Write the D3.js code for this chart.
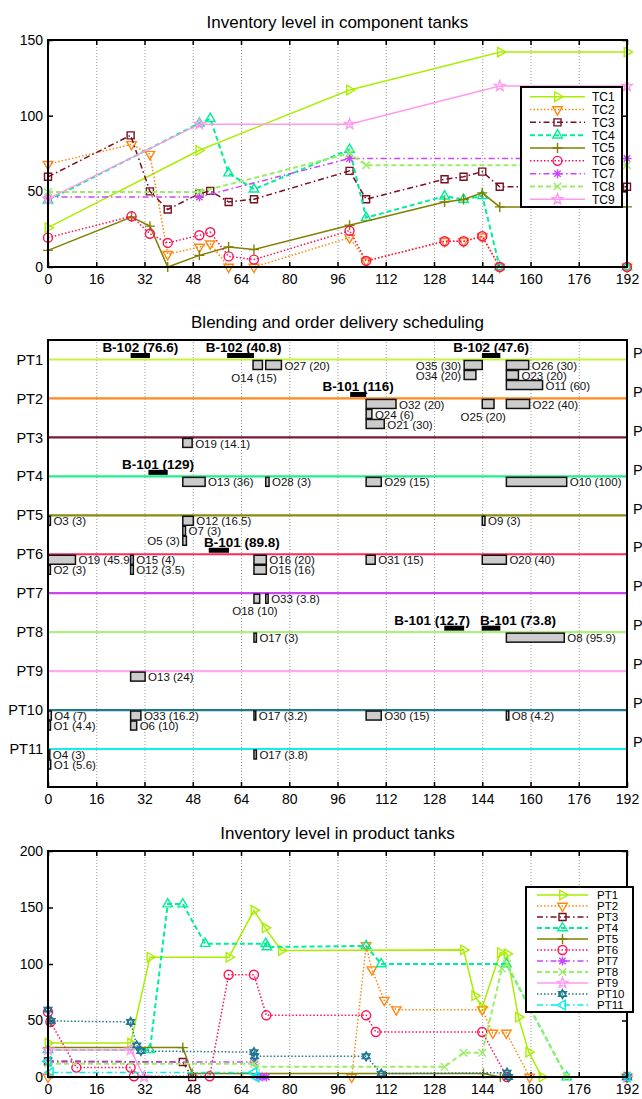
<!DOCTYPE html>
<html>
<head>
<meta charset="utf-8">
<script src="https://cdn.jsdelivr.net/npm/d3@7"></script>
<style>
body { margin: 0; background: #fff; }
svg { display: block; font-family: "Liberation Sans", Arial, sans-serif; }
.grid line { stroke: #999; stroke-dasharray: 1,2; }
.grid path { display: none; }
.axis path { display: none; }
.axis text { font-size: 14px; fill: #000; }
.axis line { stroke: #000; stroke-width: 1.5; }
</style>
</head>
<body>
<div id="chart"></div>
<script>
// ---------- component tanks (time, level) ----------
var tc1 = [[0,26],[50,77],[100,117],[150,142],[192,142]];
var tc2 = [[0,68],[27.7,81],[33.8,74.6],[39.7,8.4],[50.2,13.2],[53.8,15.4],[59.9,0],[68.3,0],[100,19.4],[105.5,4],[131.5,17],[137.8,17],[144,20],[149.8,0],[192,0]];
var tc3 = [[0,59.6],[27.4,87],[33.8,50],[39.7,38],[50.2,48.5],[53.8,50.3],[59.9,43],[68.3,44.8],[100,63.5],[105.5,44.8],[131.5,58],[137.8,59.6],[144,63],[149.8,53],[192,53]];
var tc4 = [[0,44],[50.2,95],[53.8,98],[59.9,62],[68.3,51.4],[100,77.6],[105.5,32.6],[131.5,46.8],[137.8,44.6],[144,47],[149.8,0],[192,0]];
var tc5 = [[0,11],[27.7,33],[33.8,27],[39.7,0],[50.2,7.7],[59.9,13.2],[68.3,11.5],[100,27.6],[131.5,43],[137.8,44.6],[144,49],[149.8,39.7],[192,39.7]];
var tc6 = [[0,19.4],[27.7,33.5],[33.8,22],[39.7,15.9],[50.2,21],[53.8,23],[59.9,7],[68.3,4.9],[100,24],[105.5,4],[131.5,17],[137.8,17],[144,20.3],[149.8,0],[192,0]];
var tc7 = [[0,46.3],[50.2,46.3],[100,71.7],[192,71.7]];
var tc8 = [[0,49.6],[50.2,49.6],[100,75],[105.5,67.3],[192,67.3]];
var tc9 = [[0,45],[50.2,94.4],[100,94.4],[149.8,119.6],[192,119.6]];
var tcNames = ["TC1","TC2","TC3","TC4","TC5","TC6","TC7","TC8","TC9"];

// ---------- product tanks (time, level) ----------
var pt1 = [[0,30],[27.4,30],[33.8,106],[60,106],[68.3,147.5],[72,132],[77.4,112],[137.8,112.5],[141.5,72],[144,62],[150,110],[152.2,109],[156,53],[159.4,22],[163.8,0],[192,0]];
var pt2 = [[0,0],[100.7,0],[105.5,116.5],[107.4,95],[111.5,68],[115.5,59.6],[144,59.6],[147.5,39],[152,39],[159.7,0],[192,0]];
var pt3 = [[0,14],[44.7,13.3],[47.8,0],[192,0]];
var pt4 = [[0,24],[33.8,24],[39.7,153],[44.7,153],[52.1,118],[72.2,118],[72.6,115],[105.5,116],[110.5,100],[152,100],[172,0],[192,0]];
var pt5 = [[0,26],[44.7,26],[47.8,3],[144.4,3],[150,0],[192,0]];
var pt6 = [[0,57.5],[0.8,48.7],[9.4,8.3],[27.4,8.3],[28.5,0.6],[53.6,0.6],[59.9,90.5],[68.3,90.5],[72.4,54.6],[105.5,54.6],[108.7,39.8],[144,39.8],[152.2,0],[192,0]];
var pt7 = [[0,13.3],[68.3,13.3],[69.7,0],[71,0],[72.4,0],[192,0]];
var pt8 = [[0,11.8],[68.3,11.8],[69,9],[131.5,9],[137.8,21.5],[144,21.5],[150.5,96],[152.2,100],[172,0],[192,0]];
var pt9 = [[0,24],[27.4,24],[31.9,0],[192,0]];
var pt10 = [[0,59.6],[1,49.6],[27.4,48.7],[29.4,28],[30.8,23],[68.3,22],[68.5,18.3],[105.5,18.3],[110.5,3],[152.2,3.8],[152.7,0],[192,0]];
var pt11 = [[0,14],[0.8,4],[68.3,4],[69,0],[192,0]];
var ptNames = ["PT1","PT2","PT3","PT4","PT5","PT6","PT7","PT8","PT9","PT10","PT11"];
var rightLabels = ["P2","P5","P2","P4","P2","P2","P1","P1","P4","P1","P1"];

// ---------- blending runs and order deliveries ----------
var blends = [
  {tank:"PT1", unit:"B-102", qty:76.6, start:27.4, end:33.8},
  {tank:"PT1", unit:"B-102", qty:40.8, start:59.4, end:68.3},
  {tank:"PT1", unit:"B-102", qty:47.6, start:143.9, end:150},
  {tank:"PT2", unit:"B-101", qty:116, start:100.2, end:105.5},
  {tank:"PT4", unit:"B-101", qty:129, start:33.3, end:39.7},
  {tank:"PT6", unit:"B-101", qty:89.8, start:53.3, end:60},
  {tank:"PT8", unit:"B-101", qty:12.7, start:131.4, end:138},
  {tank:"PT8", unit:"B-101", qty:73.8, start:143.8, end:150}
];

var orders = [
  {tank:"PT1", id:"O14", qty:15, start:68, end:71.1},
  {tank:"PT1", id:"O27", qty:20, start:72.2, end:77.4},
  {tank:"PT1", id:"O35", qty:30, start:138, end:144},
  {tank:"PT1", id:"O34", qty:20, start:138, end:141.9},
  {tank:"PT1", id:"O26", qty:30, start:152, end:159.4},
  {tank:"PT1", id:"O23", qty:20, start:152, end:156},
  {tank:"PT1", id:"O11", qty:60, start:152, end:164},
  {tank:"PT2", id:"O32", qty:20, start:105.5, end:115.4},
  {tank:"PT2", id:"O24", qty:6, start:105.5, end:107.4},
  {tank:"PT2", id:"O21", qty:30, start:105.5, end:111.5},
  {tank:"PT2", id:"O25", qty:20, start:144, end:147.9},
  {tank:"PT2", id:"O22", qty:40, start:152, end:159.7},
  {tank:"PT3", id:"O19", qty:14.1, start:44.7, end:47.8},
  {tank:"PT4", id:"O13", qty:36, start:44.7, end:52.1},
  {tank:"PT4", id:"O28", qty:3, start:72.2, end:73.3},
  {tank:"PT4", id:"O29", qty:15, start:105.5, end:110.5},
  {tank:"PT4", id:"O10", qty:100, start:152, end:172},
  {tank:"PT5", id:"O3", qty:3, start:0, end:0.8},
  {tank:"PT5", id:"O12", qty:16.5, start:44.7, end:48.2},
  {tank:"PT5", id:"O7", qty:3, start:44.7, end:45.6},
  {tank:"PT5", id:"O5", qty:3, start:44.7, end:45.9},
  {tank:"PT5", id:"O9", qty:3, start:144, end:144.9},
  {tank:"PT6", id:"O19", qty:45.9, start:0, end:9.1},
  {tank:"PT6", id:"O2", qty:3, start:0, end:0.8},
  {tank:"PT6", id:"O15", qty:4, start:27.4, end:28.3},
  {tank:"PT6", id:"O12", qty:3.5, start:27.4, end:28.3},
  {tank:"PT6", id:"O16", qty:20, start:68.3, end:72.4},
  {tank:"PT6", id:"O15", qty:16, start:68.3, end:72.4},
  {tank:"PT6", id:"O31", qty:15, start:105.5, end:108.5},
  {tank:"PT6", id:"O20", qty:40, start:144, end:152},
  {tank:"PT7", id:"O18", qty:10, start:68.3, end:70.2},
  {tank:"PT7", id:"O33", qty:3.8, start:72.2, end:73},
  {tank:"PT8", id:"O17", qty:3, start:68.3, end:69.1},
  {tank:"PT8", id:"O8", qty:95.9, start:152, end:171.2},
  {tank:"PT9", id:"O13", qty:24, start:27.4, end:32.2},
  {tank:"PT10", id:"O4", qty:7, start:0, end:1.1},
  {tank:"PT10", id:"O1", qty:4.4, start:0, end:0.8},
  {tank:"PT10", id:"O33", qty:16.2, start:27.4, end:30.8},
  {tank:"PT10", id:"O6", qty:10, start:27.4, end:29.4},
  {tank:"PT10", id:"O17", qty:3.2, start:68.3, end:68.9},
  {tank:"PT10", id:"O30", qty:15, start:105.5, end:110.5},
  {tank:"PT10", id:"O8", qty:4.2, start:152, end:152.8},
  {tank:"PT11", id:"O4", qty:3, start:0, end:0.6},
  {tank:"PT11", id:"O1", qty:5.6, start:0, end:0.9},
  {tank:"PT11", id:"O17", qty:3.8, start:68.3, end:69.1}
];

var xTicks = d3.range(0, 193, 16);

// styles
var colors = ["#aaee00","#ff8811","#771122","#00ee99","#808000","#ff1155","#cc44ff","#99ee66","#ff99ee","#1f7890","#00eeee"];
var rowColors = ["#c4f53a","#ff8a1a","#7a1a35","#22ee88","#8a8a10","#ff2a5a","#cc44ee","#b0ee80","#ffaaf0","#227788","#11eeee"];
var dashes = ["", "1.5,2", "6,3,1.5,3", "5,3", "", "1.5,2", "6,3,1.5,3", "5,3", "", "1.5,2", "6,3,1.5,3"];
var markers = ["triRight","triDown","square","triUp","plus","circle","asterisk","cross","star","hexagram","triLeft"];

var svg = d3.select("#chart").append("svg")
  .attr("width", 642)
  .attr("height", 1099);

var x = d3.scaleLinear().domain([0, 192]).range([48, 627]);

function markerPath(type) {
  var p = d3.path();
  var r = 5.5;
  function tri(a0, rr) {
    for (var i = 0; i < 3; i++) {
      var a = a0 + i * 2 * Math.PI / 3;
      if (i === 0) p.moveTo(rr * Math.cos(a), rr * Math.sin(a));
      else p.lineTo(rr * Math.cos(a), rr * Math.sin(a));
    }
    p.closePath();
  }
  switch (type) {
    case "triRight": tri(0, r); break;
    case "triDown": tri(Math.PI / 2, r); break;
    case "triUp": tri(-Math.PI / 2, r); break;
    case "triLeft": tri(Math.PI, r); break;
    case "square": p.rect(-3.5, -3.5, 7, 7); break;
    case "circle": p.moveTo(4.5, 0); p.arc(0, 0, 4.5, 0, 2 * Math.PI); break;
    case "plus":
      p.moveTo(-5, 0); p.lineTo(5, 0); p.moveTo(0, -5); p.lineTo(0, 5); break;
    case "cross":
      p.moveTo(-3.8, -3.8); p.lineTo(3.8, 3.8); p.moveTo(-3.8, 3.8); p.lineTo(3.8, -3.8); break;
    case "asterisk":
      p.moveTo(-4.5, 0); p.lineTo(4.5, 0); p.moveTo(0, -4.5); p.lineTo(0, 4.5);
      p.moveTo(-3.2, -3.2); p.lineTo(3.2, 3.2); p.moveTo(-3.2, 3.2); p.lineTo(3.2, -3.2); break;
    case "star":
      for (var i = 0; i < 10; i++) {
        var a = -Math.PI / 2 + i * Math.PI / 5;
        var rr = i % 2 === 0 ? 5.5 : 2.3;
        if (i === 0) p.moveTo(rr * Math.cos(a), rr * Math.sin(a));
        else p.lineTo(rr * Math.cos(a), rr * Math.sin(a));
      }
      p.closePath(); break;
    case "hexagram": tri(-Math.PI / 2, 4.5); tri(Math.PI / 2, 4.5); break;
  }
  return p.toString();
}

function drawFrame(top, bottom, yScale, yTickVals, topTicks) {
  svg.append("g")
    .attr("class", "grid")
    .attr("transform", `translate(0, ${bottom})`)
    .call(d3.axisBottom(x).tickValues(xTicks).tickSize(-(bottom - top)).tickFormat(""));

  svg.append("g")
    .attr("class", "axis")
    .attr("transform", `translate(0, ${bottom})`)
    .call(d3.axisBottom(x).tickValues(xTicks).tickSize(-5).tickPadding(7));

  if (topTicks) {
    svg.append("g")
      .attr("class", "axis")
      .attr("transform", `translate(0, ${top})`)
      .call(d3.axisTop(x).tickValues(xTicks).tickSize(-5).tickFormat(""));
  }
  if (yScale) {
    svg.append("g")
      .attr("class", "axis")
      .attr("transform", "translate(48, 0)")
      .call(d3.axisLeft(yScale).tickValues(yTickVals).tickSize(-5).tickPadding(5));
    svg.append("g")
      .attr("class", "axis")
      .attr("transform", "translate(627, 0)")
      .call(d3.axisRight(yScale).tickValues(yTickVals).tickSize(-5).tickFormat(""));
  }
}

function drawBorder(top, bottom) {
  svg.append("rect")
    .attr("x", 48).attr("y", top)
    .attr("width", 579).attr("height", bottom - top)
    .attr("fill", "none")
    .attr("stroke", "#000")
    .attr("stroke-width", 2);
}

function drawTitle(text, y) {
  svg.append("text")
    .attr("x", 337.5).attr("y", y)
    .attr("text-anchor", "middle")
    .style("font-size", "17px")
    .text(text);
}

function drawSeries(seriesList, yScale) {
  var line = d3.line().x(d => x(d[0])).y(d => yScale(d[1]));
  seriesList.forEach(function(data, i) {
    svg.append("path")
      .datum(data)
      .attr("d", line)
      .attr("fill", "none")
      .attr("stroke", colors[i])
      .attr("stroke-width", dashes[i] === "5,3" ? 2 : 1.5)
      .attr("stroke-dasharray", dashes[i]);
    svg.append("g").selectAll("path")
      .data(data)
      .enter()
      .append("path")
      .attr("transform", d => `translate(${x(d[0])}, ${yScale(d[1])})`)
      .attr("d", markerPath(markers[i]))
      .attr("fill", "none")
      .attr("stroke", colors[i])
      .attr("stroke-width", 1.4);
  });
}

function drawLegend(names, box, rowY, rowStep, lx1, lx2, tx, fontSize) {
  svg.append("rect")
    .attr("x", box[0]).attr("y", box[1])
    .attr("width", box[2]).attr("height", box[3])
    .attr("fill", "#fff")
    .attr("stroke", "#000")
    .attr("stroke-width", 2);
  names.forEach(function(name, i) {
    var yy = rowY + i * rowStep;
    svg.append("line")
      .attr("x1", lx1).attr("x2", lx2)
      .attr("y1", yy).attr("y2", yy)
      .attr("stroke", colors[i])
      .attr("stroke-width", dashes[i] === "5,3" ? 2 : 1.5)
      .attr("stroke-dasharray", dashes[i]);
    svg.append("path")
      .attr("transform", `translate(${(lx1 + lx2) / 2}, ${yy})`)
      .attr("d", markerPath(markers[i]))
      .attr("fill", "none")
      .attr("stroke", colors[i])
      .attr("stroke-width", 1.4);
    svg.append("text")
      .attr("x", tx).attr("y", yy)
      .attr("dy", "0.36em")
      .style("font-size", fontSize + "px")
      .text(name);
  });
}

// ================= component tanks =================
var yTop = d3.scaleLinear().domain([0, 150]).range([267, 40]);
drawTitle("Inventory level in component tanks", 28);
drawFrame(40, 267, yTop, [0, 50, 100, 150], true);
drawSeries([tc1, tc2, tc3, tc4, tc5, tc6, tc7, tc8, tc9], yTop);
drawBorder(40, 267);
drawLegend(tcNames, [521, 87, 101, 120], 96.7, 12.83, 530, 585, 592, 12);

// ================= blending and deliveries =================
var yRow = d3.scalePoint().domain(ptNames).range([359.5, 749]);
drawTitle("Blending and order delivery scheduling", 328);
drawFrame(340, 787, null, null, false);

svg.append("g")
  .attr("class", "axis")
  .attr("transform", "translate(48, 0)")
  .call(d3.axisLeft(yRow).tickSize(0).tickPadding(5))
  .selectAll("text")
  .style("font-size", "14.5px");

// right-hand labels run past the window edge, as in the original
svg.append("g").selectAll("text")
  .data(ptNames)
  .enter()
  .append("text")
  .attr("x", 633)
  .attr("y", d => yRow(d) - 7)
  .attr("dy", "0.36em")
  .style("font-size", "14.5px")
  .text((d, i) => rightLabels[i]);

svg.append("g").selectAll("line")
  .data(ptNames)
  .enter()
  .append("line")
  .attr("x1", 48).attr("x2", 627)
  .attr("y1", d => yRow(d)).attr("y2", d => yRow(d))
  .attr("stroke", (d, i) => rowColors[i])
  .attr("stroke-width", 2.2);

// blending runs (black bars above the row line)
var blendLabelShift = {"PT1-40.8": 3, "PT6-89.8": 23, "PT8-12.7": -22, "PT8-73.8": 27};
blends.forEach(function(b) {
  var y0 = yRow(b.tank);
  svg.append("rect")
    .attr("x", x(b.start)).attr("y", y0 - 6.5)
    .attr("width", x(b.end) - x(b.start)).attr("height", 5)
    .attr("fill", "#000");
  svg.append("text")
    .attr("x", (x(b.start) + x(b.end)) / 2 + (blendLabelShift[b.tank + "-" + b.qty] || 0))
    .attr("y", y0 - 7.5)
    .attr("text-anchor", "middle")
    .style("font-size", "13.5px")
    .style("font-weight", "bold")
    .text(`${b.unit} (${b.qty})`);
});

// order deliveries (grey bars hanging under the row line, stacked by start time)
var orderLabelSide = {"PT1-O35": "left", "PT1-O34": "left", "PT5-O5": "left",
  "PT1-O14": "below", "PT2-O25": "below", "PT7-O18": "below"};
var stackCount = {};
orders.forEach(function(o) {
  var key = o.tank + "@" + o.start;
  var level = stackCount[key] || 0;
  stackCount[key] = level + 1;
  var top = yRow(o.tank) + 1 + level * 10;
  var x0 = x(o.start), x1 = x(o.end);
  var side = orderLabelSide[o.tank + "-" + o.id] || "right";

  var label = svg.append("text")
    .style("font-size", "11.5px")
    .attr("fill", "#111")
    .attr("dy", "0.36em")
    .text(`${o.id} (${o.qty})`);
  if (side === "right") {
    label.attr("x", x1 + 3).attr("y", top + 5);
  } else if (side === "left") {
    label.attr("x", x0 - 3).attr("y", top + 5).attr("text-anchor", "end");
  } else {
    label.attr("x", x0 + 1).attr("y", top + 17).attr("text-anchor", "middle");
  }

  svg.append("rect")
    .attr("x", x0).attr("y", top)
    .attr("width", Math.max(x1 - x0, 1.5)).attr("height", 9)
    .attr("fill", "#cccccc")
    .attr("stroke", "#111")
    .attr("stroke-width", 1.5);
});
drawBorder(340, 787);

// ================= product tanks =================
var yBot = d3.scaleLinear().domain([0, 200]).range([1077, 851]);
drawTitle("Inventory level in product tanks", 839);
drawFrame(851, 1077, yBot, [0, 50, 100, 150, 200], true);
drawSeries([pt1, pt2, pt3, pt4, pt5, pt6, pt7, pt8, pt9, pt10, pt11], yBot);
drawBorder(851, 1077);
drawLegend(ptNames, [526, 887, 107, 125], 895, 11, 537, 588, 597, 11.5);
</script>
</body>
</html>
